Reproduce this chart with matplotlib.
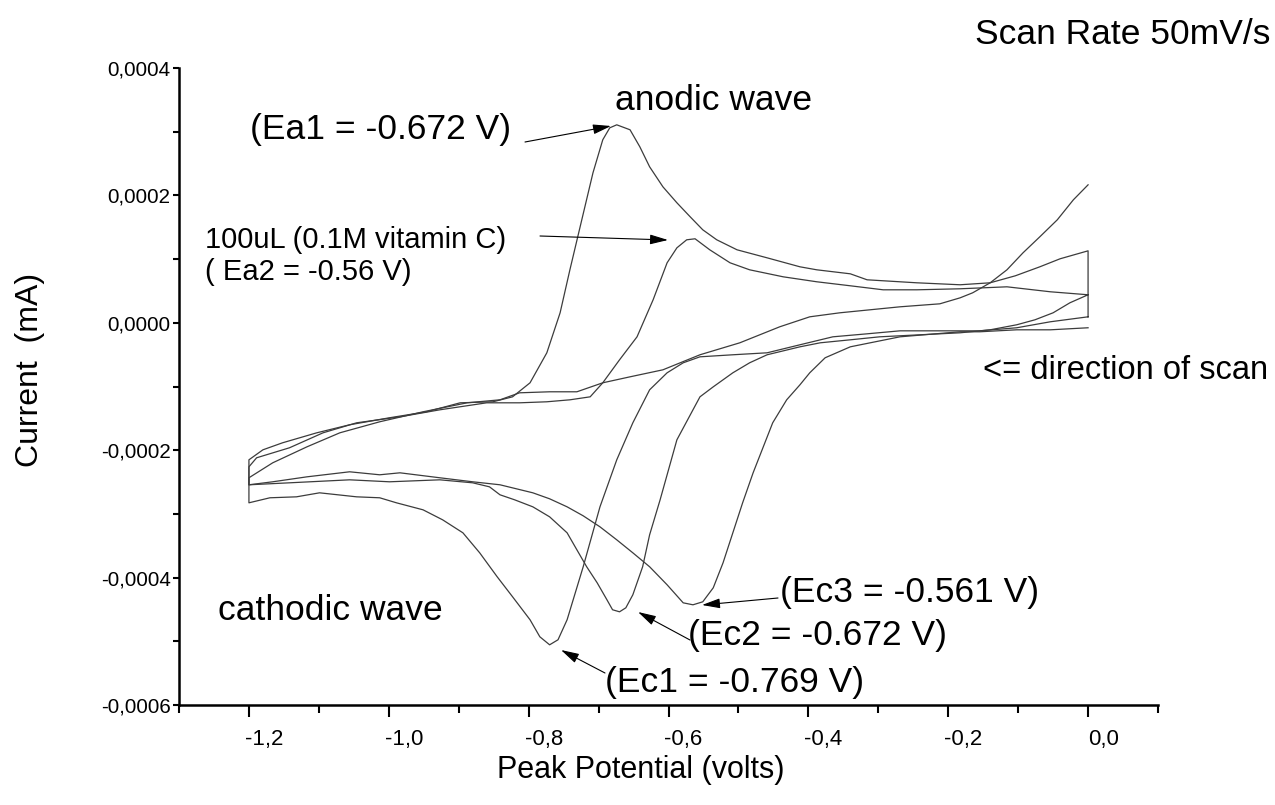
import matplotlib
matplotlib.use('Agg')
import matplotlib.pyplot as plt
import matplotlib.transforms as mtransforms
from matplotlib.ticker import FixedLocator, FixedFormatter, MultipleLocator

plt.rcParams['font.family'] = ['Liberation Sans', 'DejaVu Sans']

# ---------------- data (potential in V, current as on axis) ----------------
# Loop 1 (Ec1 / Ea1)
loop1_cath_v = [0.000, -0.054, -0.102, -0.155, -0.212, -0.269, -0.316, -0.365, -0.412, -0.459,
                -0.508, -0.555, -0.579, -0.602, -0.627, -0.651, -0.674, -0.698, -0.722, -0.745,
                -0.758, -0.770, -0.784, -0.798, -0.823, -0.845, -0.870, -0.894, -0.923, -0.951,
                -0.989, -1.013, -1.046, -1.099, -1.132, -1.170, -1.200]
loop1_cath_i = [0.094e-4, 0.016e-4, -0.078e-4, -0.126e-4, -0.126e-4, -0.126e-4, -0.173e-4, -0.220e-4,
                -0.345e-4, -0.471e-4, -0.502e-4, -0.534e-4, -0.628e-4, -0.785e-4, -1.052e-4, -1.570e-4,
                -2.151e-4, -2.889e-4, -3.830e-4, -4.662e-4, -4.976e-4, -5.055e-4, -4.929e-4, -4.662e-4,
                -4.301e-4, -3.987e-4, -3.611e-4, -3.297e-4, -3.093e-4, -2.936e-4, -2.826e-4, -2.747e-4,
                -2.732e-4, -2.669e-4, -2.732e-4, -2.747e-4, -2.826e-4]
loop1_anod_v = [-1.200, -1.180, -1.152, -1.103, -1.056, -0.999, -0.946, -0.898, -0.851, -0.823,
                -0.798, -0.774, -0.755, -0.741, -0.724, -0.708, -0.694, -0.684, -0.674, -0.655,
                -0.641, -0.627, -0.608, -0.588, -0.569, -0.551, -0.531, -0.502, -0.459, -0.412,
                -0.388, -0.340, -0.316, -0.245, -0.183, -0.140, -0.104, -0.069, -0.040, 0.000, 0.000]
loop1_anod_i = [-2.151e-4, -1.994e-4, -1.884e-4, -1.727e-4, -1.601e-4, -1.491e-4, -1.397e-4, -1.256e-4,
                -1.240e-4, -1.162e-4, -0.942e-4, -0.471e-4, 0.157e-4, 0.832e-4, 1.617e-4, 2.355e-4,
                2.873e-4, 3.061e-4, 3.108e-4, 3.030e-4, 2.763e-4, 2.449e-4, 2.135e-4, 1.884e-4,
                1.664e-4, 1.460e-4, 1.303e-4, 1.146e-4, 1.020e-4, 0.879e-4, 0.832e-4, 0.769e-4,
                0.675e-4, 0.628e-4, 0.597e-4, 0.628e-4, 0.738e-4, 0.879e-4, 1.005e-4, 1.130e-4, 0.094e-4]

# Loop 2 (Ec2 / Ea2, 100uL vitamin C)
loop2_cath_v = [0.000, -0.026, -0.050, -0.076, -0.102, -0.140, -0.183, -0.240, -0.298, -0.340,
                -0.383, -0.412, -0.459, -0.484, -0.508, -0.536, -0.555, -0.565, -0.588, -0.612,
                -0.627, -0.637, -0.651, -0.661, -0.670, -0.680, -0.688, -0.702, -0.717, -0.731,
                -0.745, -0.770, -0.794, -0.820, -0.841, -0.856, -0.880, -0.927, -0.999, -1.056,
                -1.142, -1.200]
loop2_cath_i = [0.440e-4, 0.314e-4, 0.157e-4, 0.047e-4, -0.031e-4, -0.110e-4, -0.157e-4, -0.188e-4,
                -0.220e-4, -0.267e-4, -0.314e-4, -0.377e-4, -0.502e-4, -0.628e-4, -0.785e-4, -1.005e-4,
                -1.162e-4, -1.366e-4, -1.837e-4, -2.779e-4, -3.328e-4, -3.830e-4, -4.270e-4, -4.474e-4,
                -4.537e-4, -4.505e-4, -4.349e-4, -4.082e-4, -3.830e-4, -3.564e-4, -3.297e-4, -3.046e-4,
                -2.889e-4, -2.779e-4, -2.700e-4, -2.575e-4, -2.512e-4, -2.465e-4, -2.496e-4, -2.465e-4,
                -2.512e-4, -2.543e-4]
loop2_anod_v = [-1.200, -1.189, -1.142, -1.094, -1.046, -0.984, -0.927, -0.860, -0.813, -0.774,
                -0.741, -0.712, -0.694, -0.670, -0.645, -0.622, -0.602, -0.588, -0.574, -0.562,
                -0.541, -0.512, -0.484, -0.436, -0.388, -0.340, -0.293, -0.245, -0.183, -0.116,
                -0.054, 0.000]
loop2_anod_i = [-2.261e-4, -2.119e-4, -1.962e-4, -1.727e-4, -1.570e-4, -1.476e-4, -1.366e-4, -1.256e-4,
                -1.256e-4, -1.240e-4, -1.209e-4, -1.162e-4, -0.942e-4, -0.581e-4, -0.220e-4, 0.361e-4,
                0.942e-4, 1.177e-4, 1.303e-4, 1.319e-4, 1.146e-4, 0.942e-4, 0.832e-4, 0.722e-4,
                0.644e-4, 0.581e-4, 0.518e-4, 0.518e-4, 0.534e-4, 0.565e-4, 0.487e-4, 0.440e-4]

# Loop 3 (Ec3)
loop3_cath_v = [0.000, -0.054, -0.102, -0.155, -0.183, -0.269, -0.340, -0.376, -0.398, -0.412,
                -0.431, -0.451, -0.479, -0.494, -0.508, -0.522, -0.536, -0.551, -0.565, -0.579,
                -0.602, -0.627, -0.651, -0.674, -0.698, -0.722, -0.745, -0.770, -0.794, -0.841,
                -0.880, -0.927, -0.984, -1.013, -1.056, -1.117, -1.166, -1.200]
loop3_cath_i = [-0.078e-4, -0.110e-4, -0.110e-4, -0.141e-4, -0.141e-4, -0.220e-4, -0.377e-4, -0.549e-4,
                -0.785e-4, -0.973e-4, -1.209e-4, -1.570e-4, -2.355e-4, -2.826e-4, -3.297e-4, -3.768e-4,
                -4.160e-4, -4.380e-4, -4.427e-4, -4.396e-4, -4.113e-4, -3.830e-4, -3.611e-4, -3.407e-4,
                -3.203e-4, -3.030e-4, -2.889e-4, -2.763e-4, -2.669e-4, -2.543e-4, -2.496e-4, -2.433e-4,
                -2.355e-4, -2.386e-4, -2.339e-4, -2.418e-4, -2.496e-4, -2.543e-4]
loop3_anod_v = [-1.200, -1.166, -1.117, -1.070, -1.013, -0.951, -0.888, -0.841, -0.813, -0.770,
                -0.731, -0.694, -0.655, -0.608, -0.555, -0.498, -0.441, -0.398, -0.355, -0.312,
                -0.269, -0.212, -0.183, -0.165, -0.140, -0.116, -0.093, -0.069, -0.044, -0.021, 0.000]
loop3_anod_i = [-2.433e-4, -2.198e-4, -1.947e-4, -1.727e-4, -1.554e-4, -1.397e-4, -1.256e-4, -1.209e-4,
                -1.099e-4, -1.083e-4, -1.083e-4, -0.942e-4, -0.848e-4, -0.738e-4, -0.502e-4, -0.314e-4,
                -0.063e-4, 0.094e-4, 0.157e-4, 0.204e-4, 0.251e-4, 0.298e-4, 0.392e-4, 0.471e-4,
                0.628e-4, 0.832e-4, 1.099e-4, 1.350e-4, 1.617e-4, 1.931e-4, 2.166e-4]

x_tick_values = [-1.2, -1.0, -0.8, -0.6, -0.4, -0.2, 0.0]
x_tick_labels = ['-1,2', '-1,0', '-0,8', '-0,6', '-0,4', '-0,2', '0,0']
y_tick_values = [-0.0006, -0.0004, -0.0002, 0.0, 0.0002, 0.0004]
y_tick_labels = ['-0,0006', '-0,0004', '-0,0002', '0,0000', '0,0002', '0,0004']

# ---------------- figure ----------------
W, H = 1275, 805
fig = plt.figure(figsize=(W / 100, H / 100), dpi=100)
ax = fig.add_axes([179 / W, 1 - 705 / H, (1158 - 179) / W, (705 - 68) / H])

line_kw = dict(color='#3c3c3c', lw=0.9)
ax.plot(loop1_cath_v + loop1_anod_v, loop1_cath_i + loop1_anod_i, **line_kw)
ax.plot(loop2_cath_v + loop2_anod_v, loop2_cath_i + loop2_anod_i, **line_kw)
ax.plot(loop3_cath_v + loop3_anod_v, loop3_cath_i + loop3_anod_i, **line_kw)

ax.set_xlim(-1.3, 0.1)
ax.set_ylim(-0.0006, 0.0004)
ax.spines['top'].set_visible(False)
ax.spines['right'].set_visible(False)
for s in ('left', 'bottom'):
    ax.spines[s].set_linewidth(1.8)

ax.xaxis.set_major_locator(FixedLocator(x_tick_values))
ax.xaxis.set_major_formatter(FixedFormatter(x_tick_labels))
ax.xaxis.set_minor_locator(MultipleLocator(0.1))
ax.yaxis.set_major_locator(FixedLocator(y_tick_values))
ax.yaxis.set_major_formatter(FixedFormatter(y_tick_labels))
ax.yaxis.set_minor_locator(MultipleLocator(0.0001))

ax.tick_params(axis='x', which='major', direction='out', length=8.5, width=1.5, pad=9, labelsize=16)
ax.tick_params(axis='x', which='minor', direction='out', length=5.5, width=1.5)
ax.tick_params(axis='y', which='major', direction='out', length=4.5, width=1.5, pad=1.5, labelsize=14.8)
ax.tick_params(axis='y', which='minor', direction='out', length=4.5, width=1.5)

# x tick labels sit slightly to the right of their ticks in the reference
offset = mtransforms.ScaledTranslation(15 / 100, 0, fig.dpi_scale_trans)
for tick in ax.xaxis.get_major_ticks():
    tick.label1.set_transform(tick.label1.get_transform() + offset)


def fp(x, y):
    return (x / W, 1 - y / H)


big = 25.5
small = 21
fig.text(*fp(30, 370), 'Current  (mA)', rotation=90, ha='center', va='center', fontsize=23)
fig.text(*fp(641, 770), 'Peak Potential (volts)', ha='center', va='center', fontsize=22)
fig.text(*fp(1270, 35), 'Scan Rate 50mV/s', ha='right', va='center', fontsize=big)
fig.text(*fp(615, 100), 'anodic wave', ha='left', va='center', fontsize=big)
fig.text(*fp(250, 130), '(Ea1 = -0.672 V)', ha='left', va='center', fontsize=big)
fig.text(*fp(205, 240), '100uL (0.1M vitamin C)', ha='left', va='center', fontsize=small)
fig.text(*fp(205, 272), '( Ea2 = -0.56 V)', ha='left', va='center', fontsize=small)
fig.text(*fp(1268, 370), '<= direction of scan', ha='right', va='center', fontsize=23.5)
fig.text(*fp(218, 610), 'cathodic wave', ha='left', va='center', fontsize=big)
fig.text(*fp(780, 592), '(Ec3 = -0.561 V)', ha='left', va='center', fontsize=big)
fig.text(*fp(688, 636), '(Ec2 = -0.672 V)', ha='left', va='center', fontsize=big)
fig.text(*fp(605, 682), '(Ec1 = -0.769 V)', ha='left', va='center', fontsize=big)

arrows = [((525, 142), (611, 126)),
          ((540, 236), (668, 240)),
          ((778, 598), (702, 605)),
          ((690, 640), (638, 612)),
          ((605, 673), (561, 650))]
for (x0, y0), (x1, y1) in arrows:
    ax.annotate('', xy=fp(x1, y1), xycoords='figure fraction',
                xytext=fp(x0, y0), textcoords='figure fraction',
                arrowprops=dict(arrowstyle='-|>,head_length=1.1,head_width=0.3',
                                mutation_scale=10, color='black', lw=0.8,
                                shrinkA=0, shrinkB=0))

fig.savefig('out.png', dpi=100)
